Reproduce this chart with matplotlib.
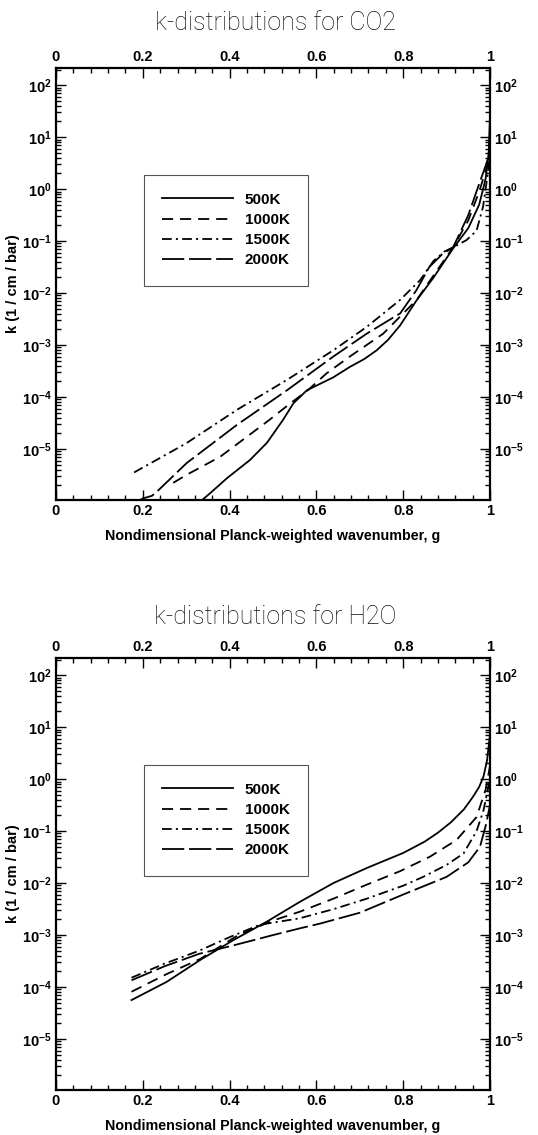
import numpy as np
import matplotlib
matplotlib.use("Agg")
import matplotlib.pyplot as plt
from matplotlib.ticker import FixedLocator, LogLocator, NullFormatter, FuncFormatter

plt.rcParams['font.family'] = ['Liberation Sans', 'DejaVu Sans']
plt.rcParams['font.weight'] = 'bold'
plt.rcParams['axes.labelweight'] = 'bold'
plt.rcParams['mathtext.fontset'] = 'custom'
plt.rcParams['mathtext.rm'] = 'Liberation Sans:bold'
plt.rcParams['mathtext.bf'] = 'Liberation Sans:bold'
plt.rcParams['mathtext.default'] = 'bf'
plt.rcParams['lines.scale_dashes'] = False

labels = ['500K', '1000K', '1500K', '2000K']
styles = ['-', (0, (8, 5)), (0, (7, 3, 1.5, 3)), (0, (16, 3.5))]

# CO2, g and log10(k)
co2_g_500 = [0.32, 0.355, 0.394, 0.447, 0.486, 0.523, 0.547, 0.578, 0.639, 0.677, 0.71,
             0.739, 0.765, 0.793, 0.83, 0.87, 0.915, 0.95, 0.975, 0.99, 0.997, 1.0]
co2_k_500 = [-6.1, -5.85, -5.56, -5.21, -4.88, -4.44, -4.12, -3.87, -3.62, -3.42, -3.27,
             -3.10, -2.9, -2.62, -2.15, -1.7, -1.14, -0.75, -0.3, 0.2, 0.7, 1.4]

co2_g_1000 = [0.27, 0.30, 0.378, 0.49, 0.54, 0.58, 0.624, 0.677, 0.754, 0.831, 0.875,
              0.915, 0.95, 0.975, 0.99, 1.0]
co2_k_1000 = [-5.65, -5.5, -5.15, -4.45, -4.12, -3.87, -3.54, -3.22, -2.78, -2.13, -1.6,
              -1.12, -0.6, -0.05, 0.35, 0.6]

co2_g_1500 = [0.18, 0.30, 0.416, 0.532, 0.639, 0.716, 0.793, 0.839, 0.87, 0.895, 0.915,
              0.946, 0.969, 0.984, 0.995, 1.0]
co2_k_1500 = [-5.45, -4.89, -4.25, -3.67, -3.10, -2.65, -2.13, -1.75, -1.38, -1.2, -1.12,
              -0.98, -0.8, -0.34, 0.3, 0.6]

co2_g_2000 = [0.18, 0.2, 0.221, 0.235, 0.301, 0.416, 0.532, 0.639, 0.716, 0.793, 0.83,
              0.86, 0.89, 0.915, 0.95, 0.975, 0.99, 1.0]
co2_k_2000 = [-6.05, -5.95, -5.9, -5.8, -5.27, -4.54, -3.87, -3.22, -2.78, -2.39, -1.95,
              -1.5, -1.25, -1.12, -0.5, 0.1, 0.45, 0.7]

# H2O, g and log10(k)
h2o_g_500 = [0.174, 0.255, 0.332, 0.408, 0.486, 0.562, 0.639, 0.716, 0.8, 0.85, 0.88,
             0.91, 0.94, 0.96, 0.975, 0.985, 0.993, 1.0]
h2o_k_500 = [-4.25, -3.9, -3.48, -3.1, -2.74, -2.36, -2.0, -1.71, -1.42, -1.2, -1.03,
             -0.83, -0.58, -0.35, -0.15, 0.05, 0.35, 0.85]

h2o_g_1000 = [0.174, 0.255, 0.332, 0.42, 0.5, 0.562, 0.639, 0.716, 0.793, 0.862, 0.923,
              0.969, 0.99, 1.0]
h2o_k_1000 = [-4.09, -3.75, -3.46, -3.0, -2.72, -2.55, -2.3, -2.03, -1.77, -1.49, -1.17,
              -0.73, -0.2, 0.25]

h2o_g_1500 = [0.174, 0.25, 0.33, 0.4, 0.47, 0.56, 0.64, 0.716, 0.8, 0.846, 0.9, 0.939,
              0.969, 0.985, 1.0]
h2o_k_1500 = [-3.82, -3.55, -3.3, -3.04, -2.8, -2.68, -2.5, -2.3, -2.05, -1.88, -1.65, -1.43,
              -1.0, -0.6, 0.0]

h2o_g_2000 = [0.174, 0.25, 0.33, 0.408, 0.5, 0.562, 0.608, 0.7, 0.8, 0.85, 0.9, 0.95,
              0.977, 0.99, 1.0]
h2o_k_2000 = [-3.87, -3.6, -3.36, -3.2, -3.0, -2.87, -2.78, -2.57, -2.22, -2.05, -1.88, -1.6,
              -1.3, -0.9, -0.5]

x_ticks = [0, 0.2, 0.4, 0.6, 0.8, 1.0]
x_ticklabels = ['0', '0.2', '0.4', '0.6', '0.8', '1']
y_ticks = [1e-5, 1e-4, 1e-3, 1e-2, 1e-1, 1e0, 1e1, 1e2]

fig = plt.figure(figsize=(5.38, 11.35), dpi=100)
W, H = 538.0, 1135.0


def panel(ax, series, title, ytitle):
    for (g, lk), lab, ls in zip(series, labels, styles):
        ax.plot(g, 10 ** np.array(lk), color='black', lw=1.3, linestyle=ls, label=lab)
    ax.set_yscale('log')
    ax.set_xlim(0, 1)
    ax.set_ylim(10 ** -5.98, 10 ** 2.33)
    ax.xaxis.set_major_locator(FixedLocator(x_ticks))
    ax.set_xticklabels(x_ticklabels)
    ax.xaxis.set_minor_locator(FixedLocator(np.arange(0, 1.001, 0.04)))
    ax.yaxis.set_major_locator(FixedLocator(y_ticks))
    ax.yaxis.set_major_formatter(FuncFormatter(lambda v, p: r'$10^{%d}$' % round(np.log10(v))))
    ax.yaxis.set_minor_locator(LogLocator(base=10, subs=np.arange(2, 10), numticks=30))
    ax.yaxis.set_minor_formatter(NullFormatter())
    ax.tick_params(which='both', direction='in', top=True, right=True,
                   labeltop=True, labelright=True, labelsize=10.5, width=1.0)
    ax.tick_params(which='major', length=7, pad=3)
    ax.tick_params(which='minor', length=3.5)
    for s in ax.spines.values():
        s.set_linewidth(1.6)
    ax.set_xlabel('Nondimensional Planck-weighted wavenumber, g', fontsize=10.3,
                  fontweight='bold')
    ax.xaxis.set_label_coords(0.5, -0.066)
    ax.set_ylabel('k (1 / cm / bar)', fontsize=10.5, fontweight='bold')
    ax.yaxis.set_label_coords(-0.083, 0.5)
    leg = ax.legend(loc='center', bbox_to_anchor=(0.392, 0.625), fontsize=11,
                    handlelength=4.6, handletextpad=0.8, labelspacing=0.4,
                    borderpad=1.2, fancybox=False, framealpha=1)
    leg.get_frame().set_edgecolor('#555555')
    leg.get_frame().set_linewidth(0.8)
    fig.text(0.512, ytitle, title, ha='center', va='center', fontsize=18,
             family=['Roboto', 'DejaVu Sans'], fontweight='light', color='#111111')


ax1 = fig.add_axes([56 / W, 1 - 500 / H, 434 / W, 432 / H])
panel(ax1, [(co2_g_500, co2_k_500), (co2_g_1000, co2_k_1000),
            (co2_g_1500, co2_k_1500), (co2_g_2000, co2_k_2000)],
      'k-distributions for CO2', 1 - 22.5 / H)

ax2 = fig.add_axes([56 / W, 1 - 1090 / H, 434 / W, 432 / H])
panel(ax2, [(h2o_g_500, h2o_k_500), (h2o_g_1000, h2o_k_1000),
            (h2o_g_1500, h2o_k_1500), (h2o_g_2000, h2o_k_2000)],
      'k-distributions for H2O', 1 - 616.7 / H)

fig.savefig('out.png', dpi=100)
